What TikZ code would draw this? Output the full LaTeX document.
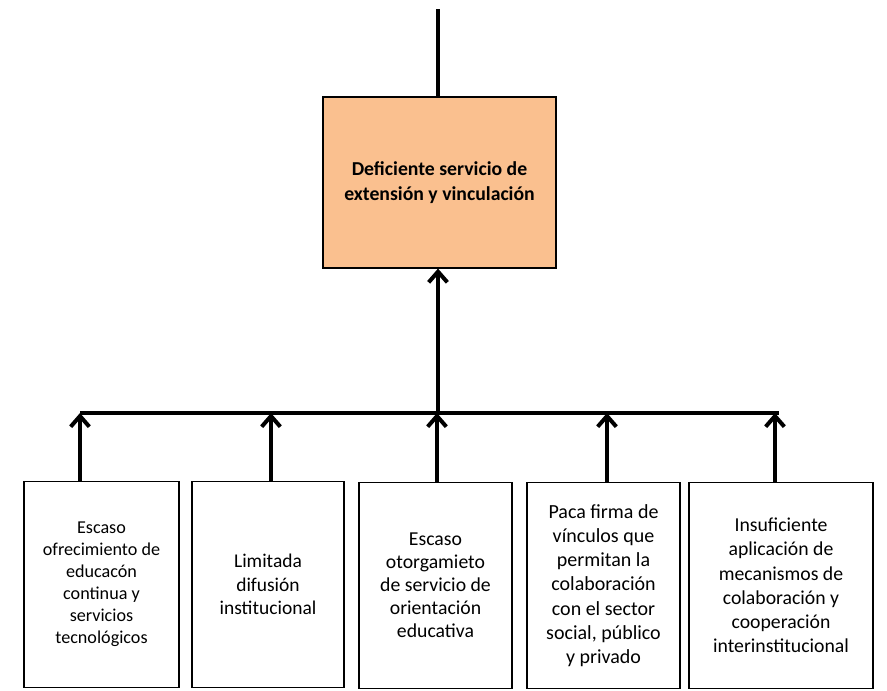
\documentclass[tikz,border=0pt]{standalone}
\usepackage{fontspec}
\setmainfont{Carlito}
\usepackage{tikz}
\usetikzlibrary{arrows.meta}
\definecolor{problemfill}{RGB}{250,192,143}
\tikzstyle{problem box}=[draw, fill=problemfill, line width=0.9pt, align=center, inner sep=0pt, minimum width=174.75pt, minimum height=128.25pt, font=\fontsize{14.8}{18.75}\selectfont\bfseries]
\tikzstyle{cause box}=[draw, fill=none, line width=0.9pt, align=center, inner sep=0pt, minimum height=154pt]
\tikzstyle{edge}=[draw, line width=3pt, -]
\tikzstyle{arrow edge}=[draw, line width=3pt, -{Straight Barb[length=8pt,width=14pt]}]

\begin{document}
\begin{tikzpicture}[x=0.75pt, y=-0.75pt]
\useasboundingbox (0,0) rectangle (887,690);
% First we draw the problem and the causes

\node[problem box] (problem) at (439.5,182.5) {Deficiente servicio de\\extensión y vinculación};

\foreach \pos/\label/\w/\fs/\ls/\name in {
	{(101.5,584.5)/c1/116.25pt/13.6/16.5/{Escaso\\ofrecimiento de\\educacón\\continua y\\servicios\\tecnológicos}},
	{(268,584.5)/c2/114pt/14.6/17.5/{Limitada\\difusión\\institucional}},
	{(435.5,585.5)/c3/114.75pt/14.8/17.3/{Escaso\\otorgamieto\\de servicio de\\orientación\\educativa}},
	{(603.5,585.5)/c4/114.75pt/15/18.2/{Paca firma de\\vínculos que\\permitan la\\colaboración\\con el sector\\social, público\\y privado}},
	{(781,585.5)/c5/138pt/14.8/18.2/{Insuficiente\\aplicación de\\mecanismos de\\colaboración y\\cooperación\\interinstitucional}}}
\node[cause box, minimum width=\w, font=\fontsize{\fs}{\ls}\selectfont] (\label) at \pos {\name};

% Bar and connection points
\coordinate (top) at (438,9);
\coordinate (mid) at (438,413);
\foreach \x/\label in {80/t1, 271/t2, 437/t3, 607/t4, 775/t5}
\coordinate (\label) at (\x,413);
\coordinate (barend) at (779,413);

\path[edge] (problem.north -| top) -- (top);
\path[edge] (t1) -- (barend);
\path[arrow edge] (mid) -- (problem.south -| mid);

% Arrows from the causes up to the bar
\foreach \source/\dest in {c1/t1, c2/t2, c3/t3, c4/t4, c5/t5}
\path[arrow edge] (\source.north -| \dest) -- (\dest);

\end{tikzpicture}
\end{document}
